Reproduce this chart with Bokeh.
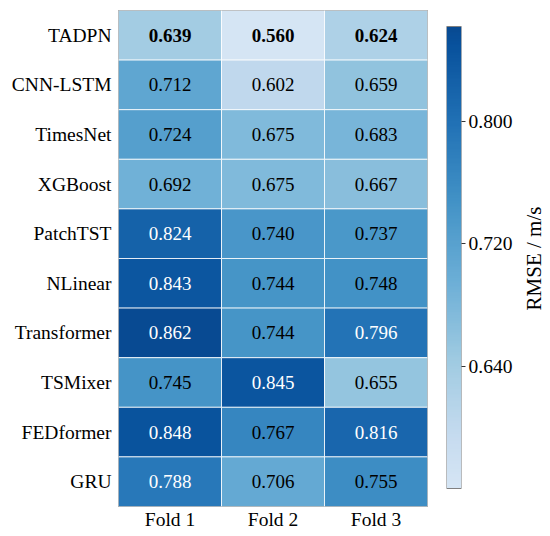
import numpy as np
from bokeh.plotting import figure
from bokeh.layouts import row
from bokeh.models import (ColumnDataSource, LinearColorMapper, FixedTicker,
                          PrintfTickFormatter, Range1d)
from bokeh.transform import transform
from bokeh.core.properties import value
from bokeh.embed import file_html
from bokeh.resources import INLINE

models = ["TADPN", "CNN-LSTM", "TimesNet", "XGBoost", "PatchTST", "NLinear",
          "Transformer", "TSMixer", "FEDformer", "GRU"]
folds = ["Fold 1", "Fold 2", "Fold 3"]
fold1 = [0.639, 0.712, 0.724, 0.692, 0.824, 0.843, 0.862, 0.745, 0.848, 0.788]
fold2 = [0.560, 0.602, 0.675, 0.675, 0.740, 0.744, 0.744, 0.845, 0.767, 0.706]
fold3 = [0.624, 0.659, 0.683, 0.667, 0.737, 0.748, 0.796, 0.655, 0.816, 0.755]
cbar_ticks = [0.640, 0.720, 0.800]
best_model = "TADPN"
cbar_title = "RMSE / m/s"

FONT = "Liberation Serif"
H = 534
FRAME_TOP, FRAME_BOT = 10, 506      # heatmap frame (px)
BAR_TOP, BAR_BOT = 26, 488          # colour bar extent (px)

# truncated Blues palette
blues = ["#f7fbff", "#deebf7", "#c6dbef", "#9ecae1", "#6baed6",
         "#4292c6", "#2171b5", "#08519c", "#08306b"]
stops = np.linspace(0, 1, len(blues))
rgb = np.array([[int(c[i:i + 2], 16) for i in (1, 3, 5)] for c in blues], dtype=float)
tt = np.linspace(0.17, 0.9, 256)
palette = []
for t in tt:
    r, g, b = (np.interp(t, stops, rgb[:, k]) for k in range(3))
    palette.append("#%02x%02x%02x" % (int(round(r)), int(round(g)), int(round(b))))

all_vals = fold1 + fold2 + fold3
vmin, vmax = min(all_vals), max(all_vals)
mapper = LinearColorMapper(palette=palette, low=vmin, high=vmax)

xs, ys, vals, labels, tcolors, tstyles = [], [], [], [], [], []
for fold, series in zip(folds, [fold1, fold2, fold3]):
    for m, v in zip(models, series):
        xs.append(fold)
        ys.append(m)
        vals.append(v)
        labels.append("%.3f" % v)
        tcolors.append("white" if v > 0.775 else "black")
        tstyles.append("bold" if m == best_model else "normal")

src = ColumnDataSource(dict(x=xs, y=ys, v=vals, lab=labels, tc=tcolors, ts=tstyles))

# ---- heatmap ----
p = figure(width=436, height=H, x_range=folds, y_range=list(reversed(models)),
           output_backend="svg", toolbar_location=None,
           min_border_left=118, min_border_top=FRAME_TOP, min_border_bottom=H - FRAME_BOT,
           min_border_right=9)

p.rect(x="x", y="y", width=1, height=1, source=src,
       fill_color=transform("v", mapper), line_color="white", line_alpha=0.8, line_width=1)
p.text(x="x", y="y", text="lab", source=src, text_color="tc", text_font_style="ts",
       text_align="center", text_baseline="middle",
       text_font=value(FONT), text_font_size="19px")

p.grid.visible = False
p.outline_line_color = "#808080"
p.outline_line_width = 1
for ax in (p.xaxis, p.yaxis):
    ax.axis_line_color = None
    ax.major_tick_line_color = None
    ax.major_tick_out = 0
    ax.major_tick_in = 0
    ax.minor_tick_line_color = None
    ax.major_label_text_font = FONT
    ax.major_label_text_font_size = "19.5px"
    ax.major_label_text_color = "black"
p.xaxis.major_label_standoff = 2
p.yaxis.major_label_standoff = 7
p.x_range.range_padding = 0
p.y_range.range_padding = 0

# ---- colour bar (frame aligned with heatmap frame, bar drawn inside) ----
ppx = (vmax - vmin) / (BAR_BOT - BAR_TOP)
y_lo = vmin - (FRAME_BOT - BAR_BOT) * ppx
y_hi = vmax + (BAR_TOP - FRAME_TOP) * ppx
p2 = figure(width=83, height=H, x_range=Range1d(0, 1), y_range=Range1d(y_lo, y_hi),
            output_backend="svg", toolbar_location=None, y_axis_location="right",
            min_border_left=10, min_border_right=58, min_border_top=FRAME_TOP,
            min_border_bottom=H - FRAME_BOT)
grad = np.linspace(vmin, vmax, 300).reshape(300, 1)
p2.image(image=[grad], x=0, y=vmin, dw=1, dh=vmax - vmin, color_mapper=mapper)
p2.quad(left=[0], right=[1], bottom=[vmin], top=[vmax], fill_color=None,
        line_color="#808080", line_width=1)
p2.grid.visible = False
p2.xaxis.visible = False
p2.outline_line_color = None
ya = p2.yaxis[0]
ya.ticker = FixedTicker(ticks=cbar_ticks)
ya.formatter = PrintfTickFormatter(format="%.3f")
ya.axis_line_color = None
ya.major_tick_line_color = "#333333"
ya.major_tick_in = 0
ya.major_tick_out = 4
ya.minor_tick_line_color = None
ya.major_label_standoff = 3
ya.major_label_text_font = FONT
ya.major_label_text_font_size = "19.5px"
ya.major_label_text_color = "black"

# ---- colour bar title ----
p3 = figure(width=28, height=H, x_range=Range1d(0, 1), y_range=Range1d(0, 1),
            output_backend="svg", toolbar_location=None,
            min_border_left=0, min_border_right=0, min_border_top=FRAME_TOP,
            min_border_bottom=H - FRAME_BOT)
p3.axis.visible = False
p3.grid.visible = False
p3.outline_line_color = None
p3.text(x=[0.5], y=[0.5], text=[cbar_title], angle=np.pi / 2,
        text_align="center", text_baseline="middle",
        text_font=value(FONT), text_font_size="21px", text_color="black")

layout = row(p, p2, p3)
open("out.html", "w").write(file_html(layout, INLINE))
